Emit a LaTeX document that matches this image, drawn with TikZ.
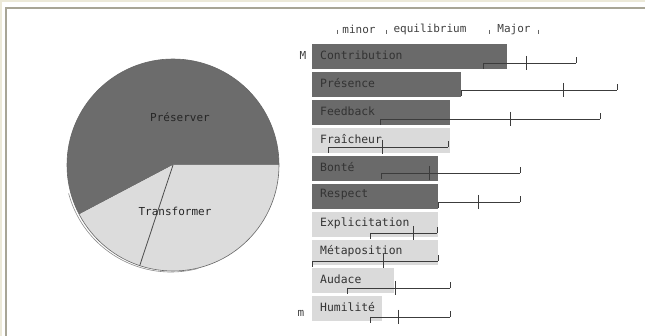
\documentclass[tikz,border=0pt]{standalone}
\usepackage{fontspec}
\newfontfamily\monof{DejaVu Sans Mono}
\definecolor{framebeige}{HTML}{ECE9D8}
\definecolor{framegray}{HTML}{A8A596}
\definecolor{bardark}{HTML}{6A6A6A}
\definecolor{barlight}{HTML}{DADADA}
\definecolor{piedark}{HTML}{6C6C6C}
\definecolor{pielight}{HTML}{DCDCDC}
\definecolor{errc}{HTML}{3C3C3C}
\tikzset{
  darkbar/.style={fill=bardark},
  lightbar/.style={fill=barlight},
  barlabel/.style={font=\monof\fontsize{11.4}{13}\selectfont, text=black!80, anchor=west, inner sep=0pt},
  hdr/.style={font=\monof\fontsize{11}{13}\selectfont, text=black!75, inner sep=0pt},
  pielabel/.style={font=\monof\fontsize{11}{13}\selectfont, text=black!85, inner sep=0pt},
  errline/.style={draw=errc, line width=0.9pt},
}
\begin{document}
\begin{tikzpicture}[x=1pt,y=-1pt]
\useasboundingbox (0,0) rectangle (645,336);
\fill[white] (0,0) rectangle (645,336);
% frame
\fill[framebeige] (0,0) rectangle (645,2);
\fill[framebeige] (0,0) rectangle (2,336);
\draw[framegray, line width=2pt] (6,336) -- (6,8) -- (645,8);
% pie
\fill[piedark] (173,165) -- ++(0:106pt) arc[start angle=0,end angle=207.8,radius=106pt] -- cycle;
\fill[pielight] (173,165) -- ++(207.8:106pt) arc[start angle=207.8,end angle=360,radius=106pt] -- cycle;
\draw[black!60, line width=0.6pt] (173,165) circle[radius=106pt];
\draw[black!45, line width=0.6pt] (171,166) ++(195:106pt) arc[start angle=195,end angle=285,radius=106pt];
\draw[black!70, line width=0.8pt] (173,165) -- ++(251.7:106pt);
\node[pielabel] (pres) at (180,117) {Préserver};
\node[pielabel] (trans) at (175,211) {Transformer};
% header
\node[hdr] (hminor) at (359,29) {minor};
\node[hdr] (hequi) at (430,29) {equilibrium};
\node[hdr] (hmajor) at (514,29) {Major};
\foreach \x in {337,386,489,538} \draw[black!60, line width=0.7pt] (\x,30) -- (\x,34);
% side marks
\node[hdr] (bigM) at (303,55) {M};
\node[hdr] (smallm) at (301,313) {m};
% bars: top, right, style, label, liney, left, mid, rightend
\foreach \i/\t/\r/\s/\lab/\ly/\a/\m/\b in {
  1/44/507/darkbar/Contribution/63/483/526/576,
  2/72/461/darkbar/Présence/90/461/563/617,
  3/100/450/darkbar/Feedback/119/380/510/600,
  4/128/450/lightbar/Fraîcheur/147/328/382/448,
  5/156/438/darkbar/Bonté/173/381/429/520,
  6/184/438/darkbar/Respect/202/438/478/520,
  7/212/438/lightbar/Explicitation/233/370/413/437,
  8/240/438/lightbar/Métaposition/261/312/383/438,
  9/268/394/lightbar/Audace/288/347/395/450,
  10/296/382/lightbar/Humilité/317/370/398/450}{
  \fill[\s] (312,\t) rectangle (\r,\t+25);
  \node[barlabel] (lab\i) at (320,\t+11) {\lab};
  \coordinate (eL\i) at (\a,\ly);
  \coordinate (eM\i) at (\m,\ly);
  \coordinate (eR\i) at (\b,\ly);
  \draw[errline] (eL\i) -- (eR\i);
  \draw[errline] (eM\i) ++(0,-7) -- ++(0,14);
  \draw[errline] (eL\i) -- ++(0,6);
  \draw[errline] (eR\i) -- ++(0,-6);
}
\end{tikzpicture}
\end{document}
